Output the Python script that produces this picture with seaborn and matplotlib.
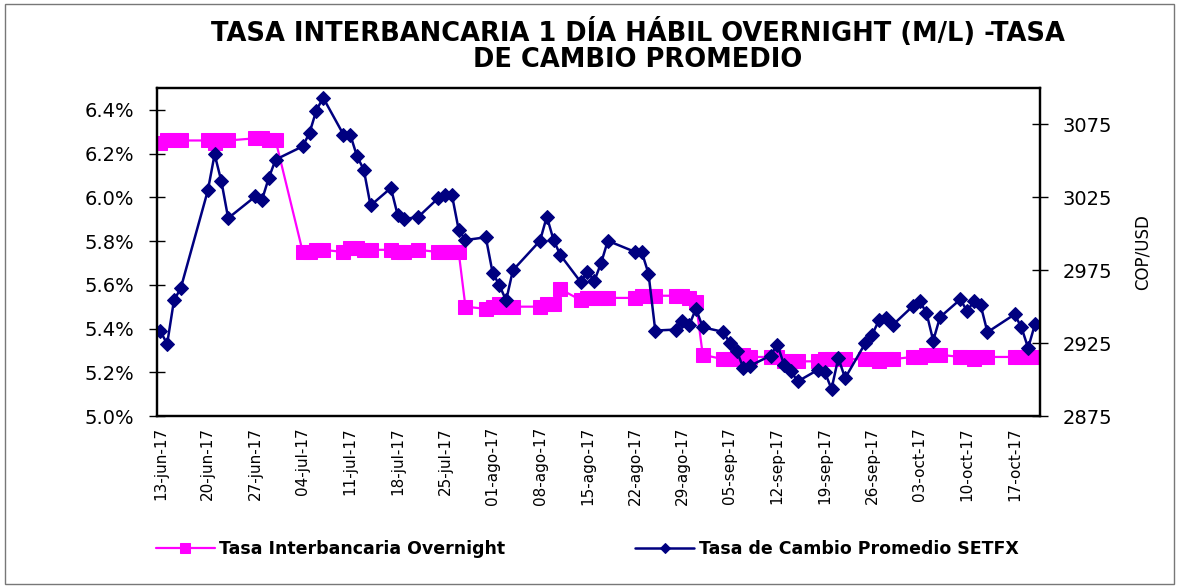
import matplotlib
matplotlib.use("Agg")
import matplotlib.pyplot as plt
import pandas as pd
import seaborn as sns
from matplotlib.patches import Rectangle
from matplotlib.ticker import FuncFormatter

fechas = [
    "2017-06-13", "2017-06-14", "2017-06-15", "2017-06-16",
    "2017-06-20", "2017-06-21", "2017-06-22", "2017-06-23",
    "2017-06-27", "2017-06-28", "2017-06-29", "2017-06-30",
    "2017-07-04", "2017-07-05", "2017-07-06", "2017-07-07",
    "2017-07-10", "2017-07-11", "2017-07-12", "2017-07-13", "2017-07-14",
    "2017-07-17", "2017-07-18", "2017-07-19", "2017-07-21",
    "2017-07-24", "2017-07-25", "2017-07-26", "2017-07-27", "2017-07-28",
    "2017-07-31", "2017-08-01", "2017-08-02", "2017-08-03", "2017-08-04",
    "2017-08-08", "2017-08-09", "2017-08-10", "2017-08-11",
    "2017-08-14", "2017-08-15", "2017-08-16", "2017-08-17", "2017-08-18",
    "2017-08-22", "2017-08-23", "2017-08-24", "2017-08-25",
    "2017-08-28", "2017-08-29", "2017-08-30", "2017-08-31", "2017-09-01",
    "2017-09-04", "2017-09-05", "2017-09-06", "2017-09-07", "2017-09-08",
    "2017-09-11", "2017-09-12", "2017-09-13", "2017-09-14", "2017-09-15",
    "2017-09-18", "2017-09-19", "2017-09-20", "2017-09-21", "2017-09-22",
    "2017-09-25", "2017-09-26", "2017-09-27", "2017-09-28", "2017-09-29",
    "2017-10-02", "2017-10-03", "2017-10-04", "2017-10-05", "2017-10-06",
    "2017-10-09", "2017-10-10", "2017-10-11", "2017-10-12", "2017-10-13",
    "2017-10-17", "2017-10-18", "2017-10-19", "2017-10-20",
]

# tasa interbancaria overnight, en %
overnight = [
    6.25, 6.26, 6.26, 6.26,
    6.26, 6.25, 6.26, 6.26,
    6.27, 6.27, 6.26, 6.26,
    5.75, 5.75, 5.76, 5.76,
    5.75, 5.77, 5.77, 5.76, 5.76,
    5.76, 5.75, 5.75, 5.76,
    5.75, 5.75, 5.75, 5.75, 5.50,
    5.49, 5.50, 5.51, 5.50, 5.50,
    5.50, 5.51, 5.51, 5.58,
    5.53, 5.54, 5.54, 5.54, 5.54,
    5.54, 5.55, 5.55, 5.55,
    5.55, 5.55, 5.54, 5.52, 5.28,
    5.26, 5.26, 5.26, 5.28, 5.27,
    5.27, 5.27, 5.25, 5.25, 5.25,
    5.25, 5.26, 5.26, 5.26, 5.26,
    5.26, 5.26, 5.25, 5.26, 5.26,
    5.27, 5.27, 5.28, 5.28, 5.28,
    5.27, 5.27, 5.26, 5.27, 5.27,
    5.27, 5.27, 5.27, 5.27,
]

# tasa de cambio promedio SETFX, COP/USD
setfx = [
    2933.1, 2924.5, 2954.3, 2962.6,
    3029.7, 3054.5, 3035.9, 3010.7,
    3025.6, 3023.5, 3038.5, 3050.9,
    3060.0, 3069.3, 3084.5, 3093.4,
    3068.1, 3068.1, 3053.2, 3044.0, 3019.4,
    3031.4, 3012.9, 3010.2, 3011.4,
    3024.5, 3026.7, 3026.7, 3002.8, 2995.7,
    2997.6, 2973.4, 2964.7, 2954.3, 2975.0,
    2995.2, 3011.8, 2995.7, 2985.4,
    2966.9, 2974.1, 2967.6, 2979.8, 2995.2,
    2987.6, 2987.6, 2972.7, 2933.6,
    2934.3, 2940.5, 2937.3, 2948.6, 2935.9,
    2932.7, 2925.1, 2919.8, 2907.9, 2909.5,
    2916.4, 2924.0, 2910.2, 2906.0, 2898.7,
    2906.7, 2905.1, 2893.6, 2914.8, 2901.0,
    2925.1, 2930.9, 2940.7, 2942.4, 2937.3,
    2950.4, 2953.8, 2945.8, 2926.7, 2942.8,
    2955.0, 2946.9, 2953.8, 2950.9, 2932.5,
    2944.7, 2935.9, 2921.7, 2937.8,
]

tick_fechas = [
    "2017-06-13", "2017-06-20", "2017-06-27", "2017-07-04", "2017-07-11",
    "2017-07-18", "2017-07-25", "2017-08-01", "2017-08-08", "2017-08-15",
    "2017-08-22", "2017-08-29", "2017-09-05", "2017-09-12", "2017-09-19",
    "2017-09-26", "2017-10-03", "2017-10-10", "2017-10-17",
]
tick_etiquetas = [
    "13-jun-17", "20-jun-17", "27-jun-17", "04-jul-17", "11-jul-17",
    "18-jul-17", "25-jul-17", "01-ago-17", "08-ago-17", "15-ago-17",
    "22-ago-17", "29-ago-17", "05-sep-17", "12-sep-17", "19-sep-17",
    "26-sep-17", "03-oct-17", "10-oct-17", "17-oct-17",
]
ticks_tasa = [5.0, 5.2, 5.4, 5.6, 5.8, 6.0, 6.2, 6.4]
ticks_cop = [2875, 2925, 2975, 3025, 3075]

df = pd.DataFrame({
    "fecha": pd.to_datetime(fechas),
    "overnight": overnight,
    "setfx": setfx,
})

MAGENTA = "#FF00FF"
NAVY = "#000080"

sns.set_style("white")
plt.rcParams["font.family"] = ["DejaVu Sans"]
plt.rcParams["text.color"] = "black"
plt.rcParams["xtick.color"] = "black"
plt.rcParams["ytick.color"] = "black"

fig = plt.figure(figsize=(11.79, 5.86), dpi=100)
W, H = 1179, 586
ax = fig.add_axes([157 / W, 1 - 416 / H, (1040 - 157) / W, (416 - 88) / H])
ax2 = ax.twinx()

sns.lineplot(data=df, x="fecha", y="overnight", ax=ax, color=MAGENTA,
             marker="s", markersize=10.5, markeredgecolor=MAGENTA,
             linewidth=1.6, legend=False, label="Tasa Interbancaria Overnight")
sns.lineplot(data=df, x="fecha", y="setfx", ax=ax2, color=NAVY,
             marker="D", markersize=7, markeredgecolor=NAVY,
             linewidth=1.8, legend=False, label="Tasa de Cambio Promedio SETFX")

ax.set_xlim(pd.Timestamp("2017-06-12 12:00"), pd.Timestamp("2017-10-20 18:00"))
ax.set_ylim(5.0, 6.5)
ax2.set_ylim(2875, 3100)
ax.set_yticks(ticks_tasa)
ax.yaxis.set_major_formatter(FuncFormatter(lambda v, p: f"{v:.1f}%"))
ax2.set_yticks(ticks_cop)
ax.set_xticks(pd.to_datetime(tick_fechas))
ax.set_xticklabels(tick_etiquetas, rotation=90, fontsize=11)

for a in (ax, ax2):
    a.set_xlabel("")
    a.set_ylabel("")
    for s in a.spines.values():
        s.set_color("black")
        s.set_linewidth(1.6)

ax.tick_params(axis="y", left=True, direction="inout", length=11, width=1,
               labelsize=14, pad=11, colors="black")
ax.tick_params(axis="x", bottom=False, length=0, pad=8, colors="black")
ax2.tick_params(axis="y", right=True, direction="inout", length=11, width=1,
                labelsize=14, pad=11, colors="black")

fig.text(1143 / W, 1 - 252 / H, "COP/USD", rotation=90, ha="center",
         va="center", fontsize=12, color="black")

fig.text(638 / W, 1 - 45.5 / H,
         "TASA INTERBANCARIA 1 DÍA HÁBIL OVERNIGHT (M/L) -TASA\nDE CAMBIO PROMEDIO",
         ha="center", va="center", fontsize=18.5, fontweight="bold",
         linespacing=1.0, color="black")

h1, l1 = ax.get_legend_handles_labels()
h2, l2 = ax2.get_legend_handles_labels()
fig.legend(h1 + h2, l1 + l2, loc="center left",
           bbox_to_anchor=(140 / W, 1 - 549 / H), ncol=2, frameon=False,
           handlelength=3.4, handletextpad=0.25, columnspacing=7.5,
           markerscale=0.75, prop={"weight": "bold", "size": 12.5})

fig.patches.append(Rectangle((0.004, 0.004), 0.992, 0.99, transform=fig.transFigure,
                             fill=False, edgecolor="#777777", linewidth=1))

fig.savefig("out.png", dpi=100)
